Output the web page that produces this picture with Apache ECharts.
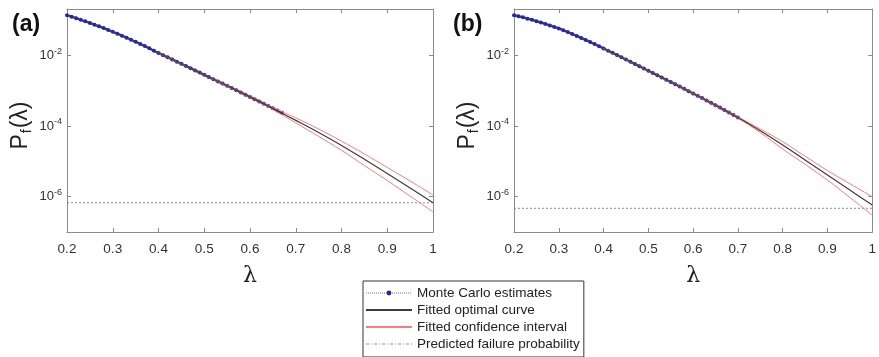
<!DOCTYPE html>
<html><head><meta charset="utf-8">
<script src="https://cdn.jsdelivr.net/npm/echarts@6/dist/echarts.min.js"></script>
<style>html,body{margin:0;padding:0;background:#fff}#c{width:879px;height:357px}</style>
</head><body><div id="c"></div>
<script>
// ---------- data ----------
const panelTitles = ['(a)', '(b)'];
const seriesNames = ['Monte Carlo estimates', 'Fitted optimal curve', 'Fitted confidence interval', 'Predicted failure probability'];

// Panel (a)
const lambdaMC_a = [0.20,0.21,0.22,0.23,0.24,0.25,0.26,0.27,0.28,0.29,0.30,0.31,0.32,0.33,0.34,0.35,0.36,0.37,0.38,0.39,0.40,0.41,0.42,0.43,0.44,0.45,0.46,0.47,0.48,0.49,0.50,0.51,0.52,0.53,0.54,0.55,0.56,0.57,0.58,0.59,0.60,0.61,0.62,0.63,0.64,0.65,0.66,0.67];
const pfMC_a = [1.40e-1,1.27e-1,1.15e-1,1.04e-1,9.40e-2,8.45e-2,7.57e-2,6.76e-2,6.03e-2,5.36e-2,4.75e-2,4.19e-2,3.68e-2,3.23e-2,2.82e-2,2.47e-2,2.15e-2,1.87e-2,1.61e-2,1.38e-2,1.19e-2,1.03e-2,8.97e-3,7.80e-3,6.76e-3,5.86e-3,5.08e-3,4.41e-3,3.81e-3,3.30e-3,2.85e-3,2.47e-3,2.14e-3,1.86e-3,1.61e-3,1.40e-3,1.21e-3,1.05e-3,9.06e-4,7.83e-4,6.76e-4,5.83e-4,5.04e-4,4.35e-4,3.74e-4,3.22e-4,2.77e-4,2.39e-4];
const lambdaFit = [0.40,0.45,0.50,0.55,0.60,0.65,0.70,0.75,0.80,0.85,0.90,0.95,1.00];
const pfFit_a = [1.19e-2,5.86e-3,2.85e-3,1.40e-3,6.76e-4,3.16e-4,1.46e-4,6.61e-5,2.85e-5,1.16e-5,4.57e-6,1.76e-6,6.76e-7];
const pfUpper_a = [1.20e-2,5.89e-3,2.92e-3,1.45e-3,7.08e-4,3.39e-4,1.72e-4,8.32e-5,3.76e-5,1.64e-5,6.76e-6,2.79e-6,1.12e-6];
const pfLower_a = [1.17e-2,5.75e-3,2.79e-3,1.35e-3,6.46e-4,2.95e-4,1.24e-4,5.13e-5,2.07e-5,7.67e-6,2.88e-6,1.04e-6,3.72e-7];
const pfPred_a = 6.76e-7;

// Panel (b)
const lambdaMC_b = [0.20,0.21,0.22,0.23,0.24,0.25,0.26,0.27,0.28,0.29,0.30,0.31,0.32,0.33,0.34,0.35,0.36,0.37,0.38,0.39,0.40,0.41,0.42,0.43,0.44,0.45,0.46,0.47,0.48,0.49,0.50,0.51,0.52,0.53,0.54,0.55,0.56,0.57,0.58,0.59,0.60,0.61,0.62,0.63,0.64,0.65,0.66,0.67,0.68,0.69,0.70];
const pfMC_b = [1.40e-1,1.31e-1,1.22e-1,1.12e-1,1.04e-1,9.51e-2,8.69e-2,7.93e-2,7.19e-2,6.52e-2,5.89e-2,5.25e-2,4.66e-2,4.11e-2,3.62e-2,3.18e-2,2.79e-2,2.44e-2,2.13e-2,1.85e-2,1.60e-2,1.38e-2,1.20e-2,1.04e-2,8.97e-3,7.76e-3,6.71e-3,5.79e-3,5.00e-3,4.32e-3,3.72e-3,3.21e-3,2.78e-3,2.40e-3,2.07e-3,1.79e-3,1.55e-3,1.33e-3,1.15e-3,9.86e-4,8.47e-4,7.28e-4,6.25e-4,5.36e-4,4.59e-4,3.93e-4,3.36e-4,2.86e-4,2.44e-4,2.08e-4,1.77e-4];
const pfFit_b = [1.60e-2,7.76e-3,3.72e-3,1.79e-3,8.47e-4,3.93e-4,1.77e-4,7.41e-5,2.92e-5,1.10e-5,4.12e-6,1.55e-6,5.82e-7];
const pfUpper_b = [1.61e-2,7.83e-3,3.78e-3,1.82e-3,8.71e-4,4.07e-4,1.84e-4,8.32e-5,3.63e-5,1.41e-5,5.50e-6,2.34e-6,1.00e-6];
const pfLower_b = [1.58e-2,7.67e-3,3.65e-3,1.75e-3,8.22e-4,3.76e-4,1.68e-4,6.61e-5,2.24e-5,8.32e-6,2.97e-6,9.55e-7,3.02e-7];
const pfPred_b = 4.7e-7;
const lambdaRange = [0.2, 1.0];

// ---------- chart ----------
const FONT = 'Liberation Sans, Arial, sans-serif';
const AX = '#8a8a8a';
const zip = (xs, ys) => xs.map((x, i) => [x, ys[i]]);

function xAxes(g) {
  return [
    { gridIndex: g, type: 'value', min: 0.2, max: 1, interval: 0.1, position: 'bottom',
      axisLine: { show: true, onZero: false, lineStyle: { color: AX } },
      axisTick: { show: true, inside: true, length: 4, lineStyle: { color: AX } },
      splitLine: { show: false },
      axisLabel: { margin: 10, fontSize: 13.5, color: '#333', fontFamily: FONT },
      name: 'λ', nameLocation: 'middle', nameGap: 33,
      nameTextStyle: { fontSize: 22, color: '#222', fontFamily: 'DejaVu Serif, serif' } },
    { gridIndex: g, type: 'value', min: 0.2, max: 1, interval: 0.1, position: 'top',
      axisLine: { show: true, onZero: false, lineStyle: { color: AX } },
      axisTick: { show: true, inside: true, length: 4, lineStyle: { color: AX } },
      splitLine: { show: false }, axisLabel: { show: false } }
  ];
}
function yFmt(v) {
  const e = Math.log10(v); const r = Math.round(e);
  if (Math.abs(e - r) > 1e-6 || r % 2 !== 0) return '';
  return '{b|10}{sup|' + r + '}';
}
function yAxes(g) {
  return [
    { gridIndex: g, type: 'log', logBase: 100, min: 1e-7, max: 0.21, position: 'left',
      axisLine: { show: true, onZero: false, lineStyle: { color: AX } },
      axisTick: { show: true, inside: true, length: 4, lineStyle: { color: AX } },
      splitLine: { show: false }, minorTick: { show: false },
      axisLabel: { margin: 5, formatter: yFmt, showMinLabel: false, showMaxLabel: false,
        rich: { b: { fontSize: 13, color: '#333', fontFamily: FONT },
                sup: { fontSize: 9, color: '#333', fontFamily: FONT, padding: [0, 0, 9, 0] } } },
      name: 'P{sub|f}(λ)', nameLocation: 'middle', nameRotate: 90, nameGap: 33,
      nameTextStyle: { fontSize: 23, color: '#222', fontFamily: FONT, padding: [0, 10, 0, 0],
        rich: { sub: { fontSize: 14, color: '#222', fontFamily: FONT, padding: [12, 1, 0, 1] } } } },
    { gridIndex: g, type: 'log', logBase: 100, min: 1e-7, max: 0.21, position: 'right',
      axisLine: { show: true, onZero: false, lineStyle: { color: AX } },
      axisTick: { show: true, inside: true, length: 4, lineStyle: { color: AX } },
      splitLine: { show: false }, axisLabel: { show: false } }
  ];
}
function panelSeries(g, lmc, mc, fit, up, lo, pred) {
  const xi = g * 2, yi = g * 2;
  const base = { type: 'line', xAxisIndex: xi, yAxisIndex: yi, animation: false, smooth: false };
  return [
    Object.assign({}, base, { name: seriesNames[0], data: zip(lmc, mc), symbol: 'circle', symbolSize: 4, showSymbol: true, z: 2,
      itemStyle: { color: '#2a2a96' }, lineStyle: { color: '#3a3aa6', width: 2.4 } }),
    Object.assign({}, base, { name: seriesNames[1], data: zip(lambdaFit, fit), symbol: 'none', smooth: 0.4, z: 4,
      lineStyle: { color: '#3c3c3c', width: 1.2 }, itemStyle: { color: '#3c3c3c' } }),
    Object.assign({}, base, { name: seriesNames[2], data: zip(lambdaFit, up), symbol: 'none', smooth: 0.4, z: 3,
      lineStyle: { color: '#ff7a7a', width: 1 }, itemStyle: { color: '#ff7a7a' } }),
    Object.assign({}, base, { name: seriesNames[2], data: zip(lambdaFit, lo), symbol: 'none', smooth: 0.4, z: 3,
      lineStyle: { color: '#ff7a7a', width: 1 }, itemStyle: { color: '#ff7a7a' } }),
    Object.assign({}, base, { name: seriesNames[3], data: zip(lambdaRange, [pred, pred]), symbol: 'none', z: 2,
      lineStyle: { color: '#8585d8', width: 1, type: [2, 2] }, itemStyle: { color: '#8585d8' } })
  ];
}

const chart = echarts.init(document.getElementById('c'), null, { renderer: 'canvas' });
chart.setOption({
  backgroundColor: '#fff',
  animation: false,
  title: [
    { text: panelTitles[0], left: 12, top: 13, padding: 0, textStyle: { fontSize: 23, fontWeight: 'bold', color: '#111', fontFamily: FONT } },
    { text: panelTitles[1], left: 453, top: 13, padding: 0, textStyle: { fontSize: 23, fontWeight: 'bold', color: '#111', fontFamily: FONT } }
  ],
  grid: [
    { left: 67, top: 9, width: 366, height: 223, containLabel: false },
    { left: 514, top: 9, width: 364, height: 223, containLabel: false }
  ],
  legend: {
    orient: 'vertical', left: 363, top: 281, padding: [5, 4, 6, 2],
    backgroundColor: '#fff', borderColor: '#333', borderWidth: 1, borderRadius: 0,
    itemWidth: 46, itemHeight: 6, itemGap: 3,
    selectedMode: false,
    data: [
      { name: seriesNames[0], lineStyle: { type: 'dotted', width: 1, color: '#6a6ad0' }, itemStyle: { color: '#2a2a96' } },
      { name: seriesNames[1], itemStyle: { opacity: 0 } },
      { name: seriesNames[2], itemStyle: { opacity: 0 } },
      { name: seriesNames[3], itemStyle: { opacity: 0 }, lineStyle: { type: [3, 2, 1, 2], width: 1.2 } }
    ],
    textStyle: { fontSize: 13.5, color: '#222', fontFamily: FONT, lineHeight: 14 }
  },
  xAxis: [].concat(xAxes(0), xAxes(1)),
  yAxis: [].concat(yAxes(0), yAxes(1)),
  series: [].concat(
    panelSeries(0, lambdaMC_a, pfMC_a, pfFit_a, pfUpper_a, pfLower_a, pfPred_a),
    panelSeries(1, lambdaMC_b, pfMC_b, pfFit_b, pfUpper_b, pfLower_b, pfPred_b)
  )
});
</script>
</body></html>
